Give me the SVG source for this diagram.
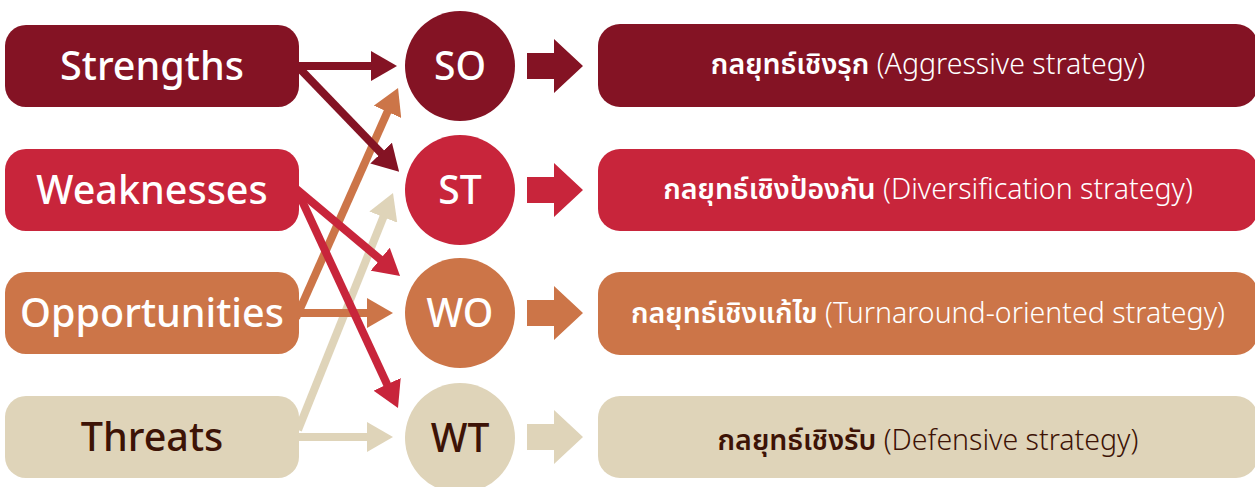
<svg xmlns="http://www.w3.org/2000/svg" width="1255" height="487" viewBox="0 0 1255 487">
<style>
.lbl{font-family:"Noto Sans","Open Sans","DejaVu Sans",sans-serif;font-weight:500;text-anchor:middle}
.big{font-size:39.5px}
.circ{font-size:39px}
.rt{font-family:"Noto Sans Thai","Noto Sans","DejaVu Sans",sans-serif;font-size:28.5px;text-anchor:middle}
.th{font-weight:600}
.en{font-weight:300}
.w{fill:#ffffff}
.d{fill:#3d1306}
.c1{fill:#841324}.c2{fill:#c8253b}.c3{fill:#cc7548}.c4{fill:#dfd4b9}
.s1{stroke:#841324}.s2{stroke:#c8253b}.s3{stroke:#cc7548}.s4{stroke:#dfd4b9}
.ln{stroke-width:8;fill:none}
</style>
<defs>
<marker id="m1" markerUnits="userSpaceOnUse" markerWidth="26" markerHeight="30" viewBox="0 0 26 30" refX="1" refY="15" orient="auto"><path d="M0,0 L26,15 L0,30 z" fill="#841324"/></marker>
<marker id="m2" markerUnits="userSpaceOnUse" markerWidth="26" markerHeight="30" viewBox="0 0 26 30" refX="1" refY="15" orient="auto"><path d="M0,0 L26,15 L0,30 z" fill="#c8253b"/></marker>
<marker id="m3" markerUnits="userSpaceOnUse" markerWidth="26" markerHeight="30" viewBox="0 0 26 30" refX="1" refY="15" orient="auto"><path d="M0,0 L26,15 L0,30 z" fill="#cc7548"/></marker>
<marker id="m4" markerUnits="userSpaceOnUse" markerWidth="26" markerHeight="30" viewBox="0 0 26 30" refX="1" refY="15" orient="auto"><path d="M0,0 L26,15 L0,30 z" fill="#dfd4b9"/></marker>
<path id="blk" d="M0,-13 L27,-13 L27,-27 L56,0 L27,27 L27,13 L0,13 z"/>
</defs>
<g id="connectors">
<line class="ln s4" x1="298" y1="430" x2="383.7" y2="216.2" marker-end="url(#m4)"/>
<line class="ln s4" x1="290" y1="437" x2="368" y2="437" marker-end="url(#m4)"/>
<line class="ln s3" x1="296" y1="318" x2="387.9" y2="110.9" marker-end="url(#m3)"/>
<line class="ln s3" x1="290" y1="313" x2="368" y2="313" marker-end="url(#m3)"/>
<line class="ln s2" x1="290" y1="183.6" x2="380.9" y2="259.9" marker-end="url(#m2)"/>
<line class="ln s2" x1="297" y1="190" x2="387.5" y2="385.3" marker-end="url(#m2)"/>
<line class="ln s1" x1="290" y1="58.5" x2="381.8" y2="153.8" marker-end="url(#m1)"/>
<line class="ln s1" x1="290" y1="66" x2="372" y2="66" marker-end="url(#m1)"/>
<use href="#blk" x="527" y="66" class="c1"/>
<use href="#blk" x="527" y="190" class="c2"/>
<use href="#blk" x="527" y="313" class="c3"/>
<use href="#blk" x="527" y="437" class="c4"/>
</g>
<g id="strengths"><rect x="5" y="25" width="294" height="82" rx="21" class="c1"/><text x="152" y="80" class="lbl big w">Strengths</text></g>
<g id="weaknesses"><rect x="5" y="149" width="294" height="82" rx="21" class="c2"/><text x="152" y="204" class="lbl big w">Weaknesses</text></g>
<g id="opportunities"><rect x="5" y="272" width="294" height="82" rx="21" class="c3"/><text x="152" y="327" class="lbl big w">Opportunities</text></g>
<g id="threats"><rect x="5" y="396" width="294" height="82" rx="21" class="c4"/><text x="152" y="451" class="lbl big d">Threats</text></g>
<g id="so"><circle cx="460" cy="66" r="55" class="c1"/><text x="460" y="80" class="lbl circ w">SO</text></g>
<g id="st"><circle cx="460" cy="190" r="55" class="c2"/><text x="460" y="204" class="lbl circ w">ST</text></g>
<g id="wo"><circle cx="460" cy="313" r="55" class="c3"/><text x="460" y="327" class="lbl circ w">WO</text></g>
<g id="wt"><circle cx="460" cy="438" r="55" class="c4"/><text x="460" y="452" class="lbl circ d">WT</text></g>
<g id="aggressive"><rect x="598" y="24" width="660" height="83" rx="22" class="c1"/><text x="928" y="74" class="rt w"><tspan class="th">กลยุทธ์เชิงรุก</tspan><tspan class="en"> (Aggressive strategy)</tspan></text></g>
<g id="diversification"><rect x="598" y="149" width="660" height="82" rx="22" class="c2"/><text x="928" y="199" class="rt w"><tspan class="th">กลยุทธ์เชิงป้องกัน</tspan><tspan class="en"> (Diversification strategy)</tspan></text></g>
<g id="turnaround"><rect x="598" y="272" width="660" height="83" rx="22" class="c3"/><text x="928" y="323" class="rt w"><tspan class="th">กลยุทธ์เชิงแก้ไข</tspan><tspan class="en"> (Turnaround-oriented strategy)</tspan></text></g>
<g id="defensive"><rect x="598" y="396" width="660" height="82" rx="22" class="c4"/><text x="928" y="450" class="rt d"><tspan class="th">กลยุทธ์เชิงรับ</tspan><tspan class="en"> (Defensive strategy)</tspan></text></g>
</svg>
